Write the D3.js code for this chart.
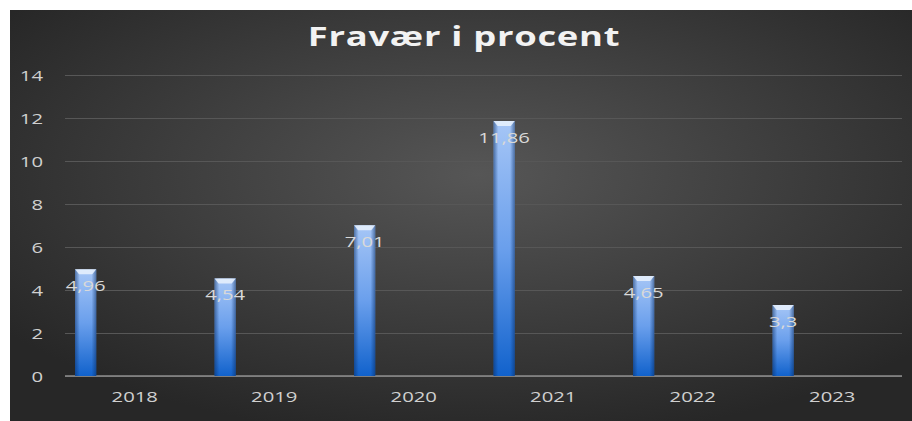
<!DOCTYPE html>
<html>
<head>
<meta charset="utf-8">
<script src="https://cdn.jsdelivr.net/npm/d3@7"></script>
<style>
  body { margin: 0; background: #fff; }
  text { font-family: "Open Sans", "DejaVu Sans", sans-serif; }
</style>
</head>
<body>
<div id="chart"></div>
<script>
// data
var years = ["2018", "2019", "2020", "2021", "2022", "2023"];
var fravaer = [4.96, 4.54, 7.01, 11.86, 4.65, 3.3];
var yTicks = [0, 2, 4, 6, 8, 10, 12, 14];
var title = "Fravær i procent";

// text in the picture looks horizontally stretched
var sx = 1.4;

var W = 912, H = 421;
var margin = { top: 75, right: 10, bottom: 45, left: 65 };

var svg = d3.select("#chart")
    .append("svg")
    .attr("width", W)
    .attr("height", H);

var defs = svg.append("defs");

// background gradient
var bg = defs.append("radialGradient")
    .attr("id", "bg")
    .attr("cx", "52%").attr("cy", "40%").attr("r", "65%");
bg.append("stop").attr("offset", "0%").attr("stop-color", "#565656");
bg.append("stop").attr("offset", "100%").attr("stop-color", "#272727");

// bar fill, light on top, deep blue at bottom
var bar = defs.append("linearGradient")
    .attr("id", "barFill")
    .attr("x1", 0).attr("y1", 0).attr("x2", 0).attr("y2", 1);
bar.append("stop").attr("offset", "0%").attr("stop-color", "#a6c6f6");
bar.append("stop").attr("offset", "50%").attr("stop-color", "#6a9fec");
bar.append("stop").attr("offset", "100%").attr("stop-color", "#1162cc");

// darker side edges
var edge = defs.append("linearGradient")
    .attr("id", "barEdge")
    .attr("x1", 0).attr("y1", 0).attr("x2", 1).attr("y2", 0);
edge.append("stop").attr("offset", "0%").attr("stop-color", "#0a2f66").attr("stop-opacity", 0.55);
edge.append("stop").attr("offset", "22%").attr("stop-color", "#0a2f66").attr("stop-opacity", 0);
edge.append("stop").attr("offset", "78%").attr("stop-color", "#0a2f66").attr("stop-opacity", 0);
edge.append("stop").attr("offset", "100%").attr("stop-color", "#0a2f66").attr("stop-opacity", 0.55);

svg.append("rect")
    .attr("x", 10).attr("y", 10)
    .attr("width", W - 10).attr("height", H - 10)
    .attr("fill", "url(#bg)");

// title
svg.append("g")
    .attr("transform", "translate(464,46)")
    .append("text")
    .attr("transform", "scale(" + sx + ",1)")
    .attr("text-anchor", "middle")
    .style("font-size", "26px")
    .style("font-weight", "bold")
    .style("letter-spacing", "0.5px")
    .attr("fill", "#f2f2f2")
    .text(title);

var x = d3.scaleBand()
    .domain(years)
    .range([margin.left, W - margin.right]);

var y = d3.scaleLinear()
    .domain([0, 14])
    .range([H - margin.bottom, margin.top]);

// gridlines + y labels
var yAxis = svg.append("g")
    .attr("transform", "translate(" + margin.left + ",0)")
    .call(d3.axisLeft(y).tickValues(yTicks).tickSize(-(W - margin.right - margin.left)).tickFormat(d3.format("d")));
yAxis.select(".domain").remove();
yAxis.selectAll("line")
    .attr("stroke", "#575757")
    .attr("stroke-width", 1);
yAxis.selectAll("text")
    .attr("x", -22 / sx)
    .attr("dy", "0.35em")
    .attr("transform", "scale(" + sx + ",1)")
    .attr("fill", "#d0d0d0")
    .style("font-size", "14.5px");

// baseline
svg.append("line")
    .attr("x1", margin.left).attr("x2", W - margin.right)
    .attr("y1", y(0)).attr("y2", y(0))
    .attr("stroke", "#8e8e8e")
    .attr("stroke-width", 1.5);

// x labels
var xAxis = svg.append("g")
    .attr("transform", "translate(0," + y(0) + ")")
    .call(d3.axisBottom(x).tickSize(0));
xAxis.select(".domain").remove();
xAxis.selectAll("text")
    .attr("y", 26)
    .attr("dy", 0)
    .attr("transform", "scale(" + sx + ",1)")
    .attr("fill", "#d0d0d0")
    .style("font-size", "14.5px");

// bars sit at the left of each band
var bx = function (i) { return x(years[i]) + x.bandwidth() * 0.072; };
var bw = x.bandwidth() * 0.152;

var bars = svg.append("g")
    .selectAll("g")
    .data(fravaer)
    .enter()
    .append("g");

bars.append("rect")
    .attr("x", function (d, i) { return bx(i); })
    .attr("y", function (d) { return y(d); })
    .attr("width", bw)
    .attr("height", function (d) { return y(0) - y(d); })
    .attr("fill", "url(#barFill)");

bars.append("rect")
    .attr("x", function (d, i) { return bx(i); })
    .attr("y", function (d) { return y(d); })
    .attr("width", bw)
    .attr("height", function (d) { return y(0) - y(d); })
    .attr("fill", "url(#barEdge)");

// light bevel on top of each bar
bars.append("path")
    .attr("d", function (d, i) {
        var x0 = bx(i), x1 = bx(i) + bw, t = y(d);
        return "M" + x0 + "," + t + "L" + x1 + "," + t +
            "L" + (x1 - 4) + "," + (t + 5) + "L" + (x0 + 4) + "," + (t + 5) + "Z";
    })
    .attr("fill", "#e6f0fd")
    .attr("opacity", 0.9);

// value labels (Danish decimal comma)
bars.append("g")
    .attr("transform", function (d, i) { return "translate(" + (bx(i) + bw / 2) + "," + (y(d) + 22) + ")"; })
    .append("text")
    .attr("transform", "scale(" + sx + ",1)")
    .attr("text-anchor", "middle")
    .attr("fill", "#d9d9d9")
    .style("font-size", "14.5px")
    .text(function (d) { return String(d).replace(".", ","); });
</script>
</body>
</html>
